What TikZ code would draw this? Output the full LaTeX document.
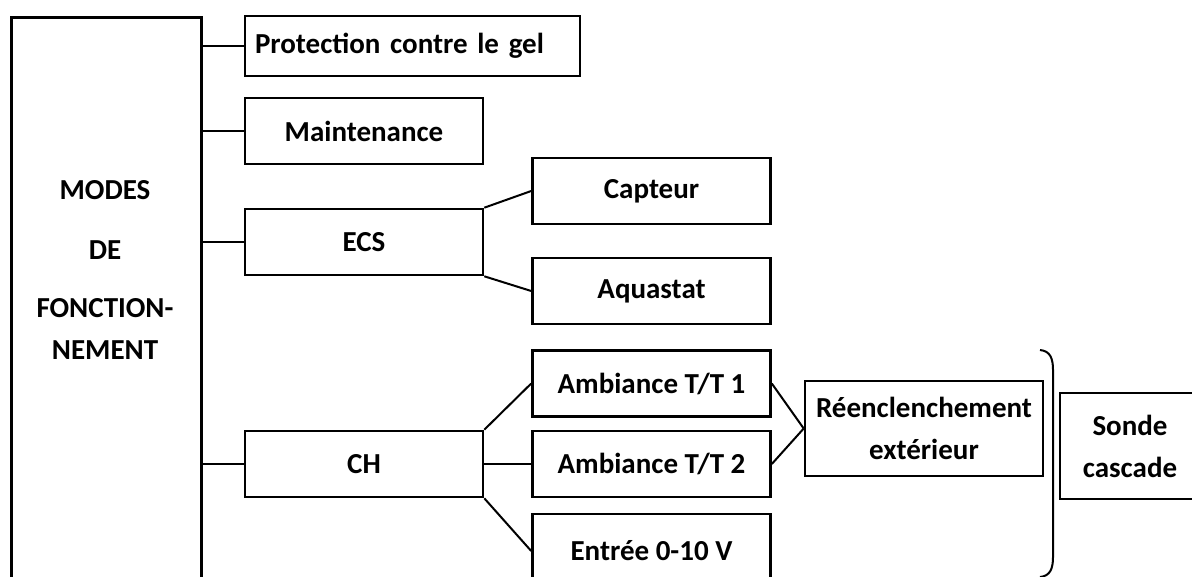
\documentclass[tikz,border=0pt]{standalone}
\usepackage{fontspec}
\setmainfont{Carlito}
\usetikzlibrary{positioning, calc}

\begin{document}
\begin{tikzpicture}[x=0.5pt, y=-0.5pt,
  box/.style={draw, line width=1.3pt, font=\fontsize{14.5}{21}\selectfont\bfseries,
    align=center, inner sep=0pt, minimum height=33pt},
  wide/.style={box, minimum width=119pt},
  link/.style={line width=1pt}]

% Canvas — pixel grid of the reference, y running downward
\useasboundingbox (0,0) rectangle (1192,577);
\fill[white] (0,0) rectangle (1192,577);
\clip (0,0) rectangle (1192,577);

% Main block (runs off the bottom edge)
\node[draw, line width=1.3pt, minimum width=95pt, minimum height=302pt, anchor=north west] (modes) at (10,16) {};
\node[font=\fontsize{14.5}{21}\selectfont\bfseries, align=center] (modeslbl) at (105,270)
  {MODES\\[9pt]DE\\[8pt]FONCTION-\\NEMENT};

% First level
\node[box, minimum width=167.5pt, minimum height=30pt, text width=157.5pt, align=left] (prot) at (412.5,46) {Protection contre le gel};
\node[wide] (maint) at (364,131) {Maintenance};
\node[wide] (ecs) at (364,242) {ECS};
\node[wide] (ch) at (364,464) {CH};

% ECS branch
\node[wide] (capteur) at (651.5,191) {Capteur};
\node[wide] (aqua) at (651.5,291) {Aquastat};

% CH branch
\node[wide] (amb1) at (651.5,383.5) {Ambiance T/T 1};
\node[wide] (amb2) at (651.5,464) {Ambiance T/T 2};
\node[wide, minimum height=37pt] (entree) at (651.5,551) {Entrée 0-10 V};
\node[wide, minimum height=47.5pt] (reenc) at (924,428.5) {Réenclenchement\\extérieur};

% Right-hand group
\node[box, minimum width=70pt, minimum height=53pt] (sonde) at (1130,446) {Sonde\\cascade};

% Links from the main block
\draw[link] (modes.east |- prot.west) -- (prot.west);
\draw[link] (modes.east |- maint.west) -- (maint.west);
\draw[link] (modes.east |- ecs.west) -- (ecs.west);
\draw[link] (modes.east |- ch.west) -- (ch.west);

% Fan-outs
\draw[link] (ecs.north east) -- (capteur.west);
\draw[link] (ecs.south east) -- (aqua.west);
\draw[link] (ch.north east) -- (amb1.west);
\draw[link] (ch.east) -- (amb2.west);
\draw[link] (ch.south east) -- (entree.west);
\draw[link] (amb1.east) -- (reenc.west);
\draw[link] (amb2.east) -- (reenc.west);

% Closing bracket
\coordinate (brtop) at (1040,350);
\coordinate (brbot) at (1040,577);
\draw[link] (brtop) .. controls (1050,351) and (1053,358) .. (1053,370)
  -- (1053,557) .. controls (1053,569) and (1050,576) .. (brbot);

\end{tikzpicture}
\end{document}
